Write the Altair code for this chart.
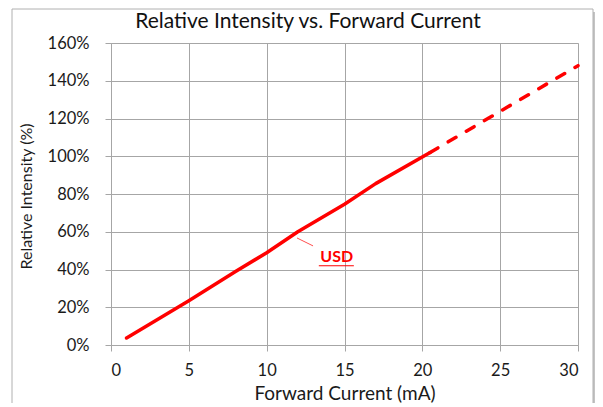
import altair as alt
import pandas as pd

# Measured curve (solid part)
current_solid = [1, 5, 8, 10, 12, 15, 17, 20.5]
intensity_solid = [3.7, 23.5, 38.9, 48.9, 60, 74.6, 85.5, 102]
# Extrapolated part (dashed)
current_dash = [20.5, 25, 30]
intensity_dash = [102, 123.8, 148]

x_ticks = [0, 5, 10, 15, 20, 25, 30]
y_ticks = [0, 20, 40, 60, 80, 100, 120, 140, 160]

title_text = ["Relative Intensity vs. Forward Current"]
label_text = ["USD"]
label_pos = [14.5, 46.5]
leader_x = [11.95, 12.98]
leader_y = [56.7, 52.5]
underline_x = [13.35, 15.6]
underline_y = [42.0, 42.0]

FONT = "Lato"
RED = "#ff0000"
GRID = "#a6a6a6"
TXT = "#1a1a1a"

solid = pd.DataFrame({"x": current_solid, "y": intensity_solid})
dash = pd.DataFrame({"x": current_dash, "y": intensity_dash})

xs = alt.Scale(domain=[0, 30], nice=False)
ys = alt.Scale(domain=[0, 160], nice=False)

x_axis = alt.Axis(values=x_ticks, title="Forward Current (mA)", grid=True,
                  gridColor=GRID, domainColor=GRID, tickColor=GRID,
                  tickSize=6, labelPadding=11, labelFontSize=16.5, labelFont=FONT,
                  labelColor=TXT, labelOverlap=False,
                  titleFont=FONT, titleFontSize=19,
                  titleFontWeight="normal", titleColor=TXT,
                  titleX=233.5, titleY=54, titleBaseline="alphabetic")
y_axis = alt.Axis(values=y_ticks, title="Relative Intensity (%)", grid=True,
                  labelExpr="datum.value + '%'",
                  gridColor=GRID, domainColor=GRID, tickColor=GRID,
                  tickSize=6, labelPadding=16, labelFontSize=16.5, labelFont=FONT,
                  labelColor=TXT, labelOverlap=False,
                  titleFont=FONT, titleFontSize=16,
                  titleFontWeight="normal", titleColor=TXT,
                  titleX=-80, titleY=153, titleBaseline="alphabetic")

one = pd.DataFrame({"a": [0]})
# frame with shadow (decoration)
shadow_r = alt.Chart(one).mark_rect(fill="#c4c4c4").encode(
    x=alt.value(482), x2=alt.value(488), y=alt.value(-31), y2=alt.value(364))
shadow_b = alt.Chart(one).mark_rect(fill="#d4d4d4").encode(
    x=alt.value(-95), x2=alt.value(488), y=alt.value(361), y2=alt.value(364))
frame = alt.Chart(one).mark_rect(
    fill="white", fillOpacity=0, stroke="#b0b0b0", strokeWidth=1).encode(
    x=alt.value(-99), x2=alt.value(482), y=alt.value(-34), y2=alt.value(361))

title = alt.Chart(pd.DataFrame({"t": title_text})).mark_text(
    font=FONT, fontSize=21, color="#111111", align="center", baseline="alphabetic").encode(
    x=alt.value(197), y=alt.value(-15), text="t:N")

line_solid = alt.Chart(solid).mark_line(
    color=RED, strokeWidth=3.5, strokeCap="round", strokeJoin="round").encode(
    x=alt.X("x:Q", scale=xs, axis=x_axis),
    y=alt.Y("y:Q", scale=ys, axis=y_axis))

line_dash = alt.Chart(dash).mark_line(
    color=RED, strokeWidth=3.5, strokeCap="round", strokeDash=[9, 12]).encode(
    x=alt.X("x:Q", scale=xs, axis=x_axis), y=alt.Y("y:Q", scale=ys, axis=y_axis))

leader = alt.Chart(pd.DataFrame({"x": leader_x, "y": leader_y})).mark_line(
    color="#ff5050", strokeWidth=1).encode(
    x=alt.X("x:Q", scale=xs, axis=x_axis), y=alt.Y("y:Q", scale=ys, axis=y_axis))

label = alt.Chart(pd.DataFrame({"x": [label_pos[0]], "y": [label_pos[1]], "t": label_text})).mark_text(
    color=RED, font=FONT, fontSize=16, fontWeight="bold", align="center", baseline="middle").encode(
    x=alt.X("x:Q", scale=xs, axis=x_axis), y=alt.Y("y:Q", scale=ys, axis=y_axis), text="t:N")

underline = alt.Chart(pd.DataFrame({"x": underline_x, "y": underline_y})).mark_line(
    color=RED, strokeWidth=1.2).encode(
    x=alt.X("x:Q", scale=xs, axis=x_axis), y=alt.Y("y:Q", scale=ys, axis=y_axis))

chart = alt.layer(shadow_r, shadow_b, frame, title, line_solid, line_dash, leader, underline, label).properties(
    width=467, height=302,
    autosize=alt.AutoSizeParams(type="none"),
    padding={"left": 103, "top": 35, "right": 17, "bottom": 58},
).configure_view(stroke=None).configure(background="white")

chart.save("out.html", embed_options={"renderer": "svg", "actions": False})
